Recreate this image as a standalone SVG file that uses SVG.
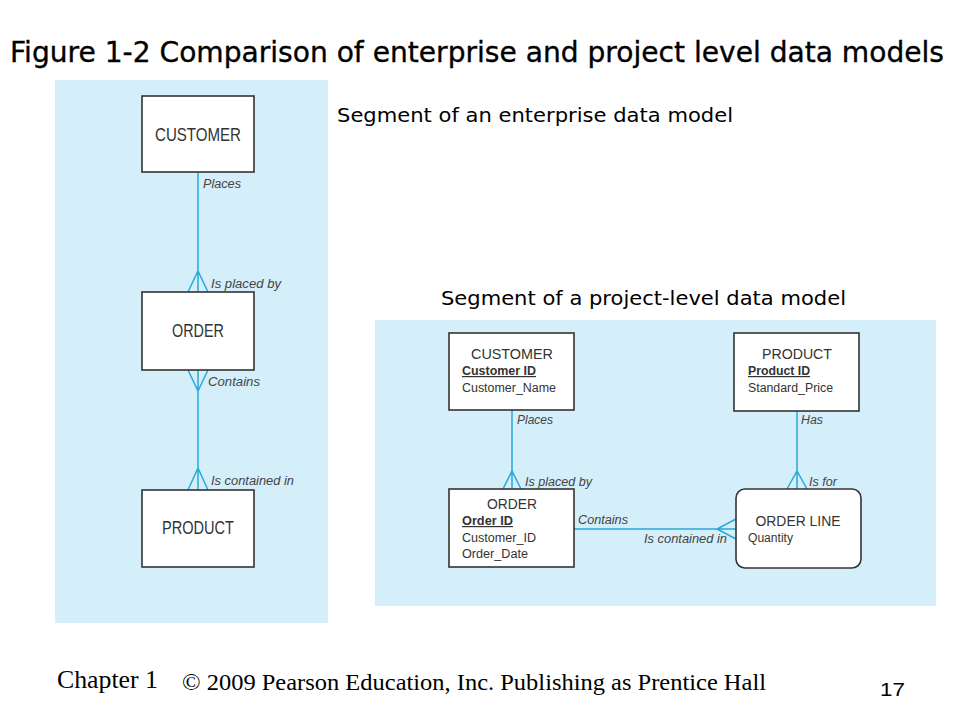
<svg xmlns="http://www.w3.org/2000/svg" width="960" height="720" viewBox="0 0 960 720">
<style>
.bg{fill:#d4eefa}
.box{fill:#fff;stroke:#333;stroke-width:1.6}
.ln{stroke:#29a8dc;stroke-width:1.5;fill:none}
.head{font-family:"DejaVu Sans","Liberation Sans",sans-serif;fill:#000}
.ent{font-family:"Liberation Sans","DejaVu Sans",sans-serif;fill:#333;text-anchor:middle}
.att{font-family:"Liberation Sans","DejaVu Sans",sans-serif;fill:#333;font-size:12px}
.key{font-weight:bold;text-decoration:underline}
.rel{font-family:"Liberation Sans","DejaVu Sans",sans-serif;fill:#444;font-style:italic;font-size:12px}
.foot{font-family:"Liberation Serif","DejaVu Serif",serif;fill:#000}
</style>
<rect width="960" height="720" fill="#fff"/>
<text class="head" x="10" y="62" font-size="28" stroke="#000" stroke-width="0.35" textLength="934" lengthAdjust="spacingAndGlyphs">Figure 1-2 Comparison of enterprise and project level data models</text>
<rect class="bg" x="55" y="80" width="273" height="543"/>
<rect class="bg" x="375" y="320" width="561" height="286"/>
<text class="head" x="337" y="122" font-size="20" textLength="396" lengthAdjust="spacingAndGlyphs">Segment of an enterprise data model</text>
<text class="head" x="441" y="305" font-size="20" textLength="405" lengthAdjust="spacingAndGlyphs">Segment of a project-level data model</text>

<g id="connectors">
<path class="ln" d="M198 172V292M188 292L198 271L208 292"/>
<path class="ln" d="M198 370V490M188 370L198 391L208 370M188 490L198 468L208 490"/>
<path class="ln" d="M512 410V489M503 489L512 471L521 489"/>
<path class="ln" d="M797 411V489M787 489L797 471L807 489"/>
<path class="ln" d="M574 529H736M736 519L717 529L736 539"/>
<text class="rel" x="203" y="188" font-size="13" textLength="38" lengthAdjust="spacingAndGlyphs">Places</text>
<text class="rel" x="211" y="288" font-size="13" textLength="70" lengthAdjust="spacingAndGlyphs">Is placed by</text>
<text class="rel" x="208" y="386" font-size="13" textLength="52" lengthAdjust="spacingAndGlyphs">Contains</text>
<text class="rel" x="211" y="485" font-size="13" textLength="83" lengthAdjust="spacingAndGlyphs">Is contained in</text>
<text class="rel" x="517" y="424" textLength="36" lengthAdjust="spacingAndGlyphs">Places</text>
<text class="rel" x="525" y="486" textLength="67" lengthAdjust="spacingAndGlyphs">Is placed by</text>
<text class="rel" x="578" y="524" textLength="50" lengthAdjust="spacingAndGlyphs">Contains</text>
<text class="rel" x="644" y="543" textLength="83" lengthAdjust="spacingAndGlyphs">Is contained in</text>
<text class="rel" x="801" y="424" textLength="22" lengthAdjust="spacingAndGlyphs">Has</text>
<text class="rel" x="809" y="486" textLength="28" lengthAdjust="spacingAndGlyphs">Is for</text>
</g>

<g id="ent-customer">
<rect class="box" x="142" y="96" width="112" height="76"/>
<text class="ent" x="198" y="141" font-size="18" textLength="86" lengthAdjust="spacingAndGlyphs">CUSTOMER</text>
</g>
<g id="ent-order">
<rect class="box" x="142" y="292" width="112" height="78"/>
<text class="ent" x="198" y="337" font-size="18" textLength="52" lengthAdjust="spacingAndGlyphs">ORDER</text>
</g>
<g id="ent-product">
<rect class="box" x="142" y="490" width="112" height="77"/>
<text class="ent" x="198" y="534" font-size="18" textLength="72" lengthAdjust="spacingAndGlyphs">PRODUCT</text>
</g>

<g id="pl-customer">
<rect class="box" x="449" y="333" width="125" height="77"/>
<text class="ent" x="512" y="359" font-size="14" textLength="82" lengthAdjust="spacingAndGlyphs">CUSTOMER</text>
<text class="att key" x="462" y="375" textLength="74" lengthAdjust="spacingAndGlyphs">Customer ID</text>
<text class="att" x="462" y="392" textLength="94" lengthAdjust="spacingAndGlyphs">Customer_Name</text>
</g>
<g id="pl-order">
<rect class="box" x="449" y="489" width="125" height="78"/>
<text class="ent" x="512" y="509" font-size="14" textLength="50" lengthAdjust="spacingAndGlyphs">ORDER</text>
<text class="att key" x="462" y="525" textLength="51" lengthAdjust="spacingAndGlyphs">Order ID</text>
<text class="att" x="462" y="542" textLength="74" lengthAdjust="spacingAndGlyphs">Customer_ID</text>
<text class="att" x="462" y="558" textLength="66" lengthAdjust="spacingAndGlyphs">Order_Date</text>
</g>
<g id="pl-product">
<rect class="box" x="734" y="333" width="125" height="78"/>
<text class="ent" x="797" y="359" font-size="14" textLength="70" lengthAdjust="spacingAndGlyphs">PRODUCT</text>
<text class="att key" x="748" y="375" textLength="62" lengthAdjust="spacingAndGlyphs">Product ID</text>
<text class="att" x="748" y="392" textLength="85" lengthAdjust="spacingAndGlyphs">Standard_Price</text>
</g>
<g id="pl-orderline">
<rect class="box" x="736" y="489" width="125" height="79" rx="9"/>
<text class="ent" x="798" y="526" font-size="14" textLength="85" lengthAdjust="spacingAndGlyphs">ORDER LINE</text>
<text class="att" x="748" y="542" textLength="45" lengthAdjust="spacingAndGlyphs">Quantity</text>
</g>

<text class="foot" x="57" y="688" font-size="26" textLength="101" lengthAdjust="spacingAndGlyphs">Chapter 1</text>
<text class="foot" x="182" y="690" font-size="23" textLength="584" lengthAdjust="spacingAndGlyphs">© 2009 Pearson Education, Inc.  Publishing as Prentice Hall</text>
<text x="880" y="696" font-family="Liberation Sans, Arial, sans-serif" font-size="18" textLength="25" lengthAdjust="spacingAndGlyphs">17</text>
</svg>
